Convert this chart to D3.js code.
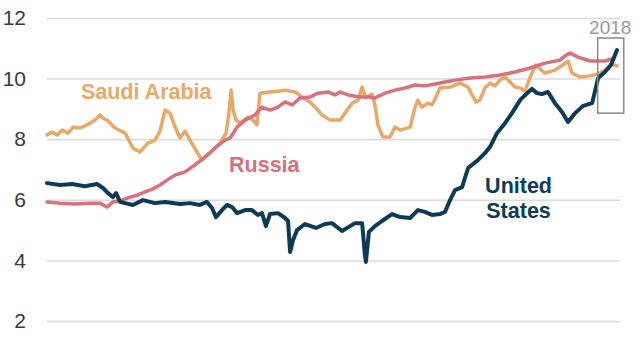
<!DOCTYPE html>
<html>
<head>
<meta charset="utf-8">
<script src="https://cdn.jsdelivr.net/npm/d3@7"></script>
<style>
  html, body { margin: 0; padding: 0; background: #fff; }
  svg { display: block; }
</style>
</head>
<body>
<svg id="chart" width="640" height="360"></svg>
<script>
// Crude oil production, million barrels per day (decimal year, value)
const usData = [
  [1996.00,6.55],[1996.52,6.49],[1997.00,6.52],[1997.51,6.45],[1997.99,6.52],[1998.23,6.39],
  [1998.43,6.22],[1998.63,6.09],[1998.75,6.22],[1998.91,5.93],[1999.11,5.89],[1999.42,5.83],
  [1999.82,5.99],[2000.30,5.89],[2000.70,5.93],[2001.30,5.86],[2001.69,5.89],[2002.09,5.83],
  [2002.37,5.93],[2002.57,5.73],[2002.73,5.43],[2002.97,5.66],[2003.17,5.83],[2003.37,5.76],
  [2003.57,5.56],[2003.89,5.66],[2004.16,5.66],[2004.40,5.50],[2004.56,5.56],[2004.72,5.13],
  [2004.88,5.53],[2005.20,5.56],[2005.48,5.40],[2005.60,5.30],[2005.68,4.28],[2005.80,4.67],
  [2005.96,5.00],[2006.27,5.20],[2006.71,5.07],[2007.07,5.20],[2007.35,5.23],[2007.75,4.97],
  [2008.07,5.13],[2008.27,5.23],[2008.55,5.23],[2008.66,4.18],[2008.70,3.95],[2008.82,4.94],
  [2009.06,5.13],[2009.34,5.30],[2009.74,5.53],[2010.06,5.43],[2010.46,5.40],[2010.77,5.66],
  [2011.05,5.60],[2011.33,5.50],[2011.65,5.53],[2011.85,5.60],[2012.05,5.99],[2012.25,6.32],
  [2012.53,6.42],[2012.77,7.05],[2013.16,7.31],[2013.44,7.54],[2013.64,7.74],[2013.92,8.20],
  [2014.24,8.53],[2014.52,8.86],[2014.84,9.29],[2015.12,9.52],[2015.31,9.66],[2015.51,9.52],
  [2015.71,9.49],[2015.95,9.56],[2016.23,9.19],[2016.51,8.90],[2016.75,8.57],[2017.03,8.86],
  [2017.35,9.10],[2017.71,9.19],[2017.95,10.02],[2018.22,10.22],[2018.46,10.45],[2018.70,10.94]
];
const russiaData = [
  [1996.00,5.93],[1996.52,5.89],[1997.12,5.86],[1997.71,5.89],[1998.11,5.89],[1998.39,5.76],
  [1998.63,5.93],[1998.99,5.99],[1999.31,6.09],[1999.62,6.16],[1999.90,6.26],[2000.22,6.36],
  [2000.50,6.49],[2000.78,6.65],[2001.10,6.82],[2001.50,6.92],[2001.89,7.15],[2002.29,7.41],
  [2002.69,7.71],[2003.09,7.97],[2003.29,8.04],[2003.57,8.40],[2003.89,8.63],[2004.28,8.80],
  [2004.56,9.06],[2004.88,8.96],[2005.20,9.06],[2005.48,9.23],[2005.76,9.13],[2006.08,9.36],
  [2006.47,9.39],[2006.79,9.52],[2007.19,9.56],[2007.47,9.46],[2007.67,9.56],[2007.99,9.46],
  [2008.47,9.39],[2008.86,9.39],[2009.06,9.36],[2009.46,9.52],[2009.86,9.62],[2010.26,9.69],
  [2010.66,9.79],[2011.05,9.76],[2011.45,9.82],[2011.85,9.89],[2012.25,9.95],[2012.85,10.02],
  [2013.44,10.05],[2014.04,10.12],[2014.64,10.22],[2015.24,10.35],[2015.83,10.51],[2016.43,10.61],
  [2016.63,10.75],[2016.83,10.84],[2017.15,10.71],[2017.63,10.58],[2018.22,10.58],[2018.50,10.65]
];
const saudiData = [
  [1996.00,8.14],[1996.20,8.24],[1996.40,8.14],[1996.60,8.30],[1996.84,8.20],[1997.04,8.40],
  [1997.31,8.37],[1997.59,8.47],[1997.91,8.63],[1998.11,8.80],[1998.23,8.70],[1998.39,8.63],
  [1998.71,8.37],[1999.11,8.20],[1999.42,7.71],[1999.70,7.58],[2000.02,7.87],[2000.30,7.97],
  [2000.50,8.27],[2000.70,8.96],[2000.90,8.86],[2001.10,8.40],[2001.30,8.04],[2001.50,8.27],
  [2001.69,7.97],[2001.97,7.58],[2002.17,7.31],[2002.49,7.54],[2002.89,7.87],[2003.13,8.20],
  [2003.25,8.90],[2003.33,9.62],[2003.41,8.96],[2003.53,8.63],[2003.69,8.53],[2004.00,8.73],
  [2004.20,8.63],[2004.36,8.47],[2004.48,9.52],[2004.88,9.56],[2005.28,9.59],[2005.48,9.62],
  [2005.88,9.56],[2006.16,9.39],[2006.47,9.23],[2006.71,9.03],[2006.95,8.80],[2007.27,8.63],
  [2007.67,8.63],[2007.87,8.86],[2008.15,9.19],[2008.39,9.29],[2008.55,9.72],[2008.70,9.36],
  [2008.94,9.49],[2009.06,9.13],[2009.18,8.47],[2009.38,8.07],[2009.66,8.07],[2009.86,8.40],
  [2010.06,8.30],[2010.46,8.40],[2010.66,9.06],[2010.77,9.29],[2010.93,9.06],[2011.17,9.19],
  [2011.33,9.13],[2011.49,9.39],[2011.65,9.69],[2012.05,9.72],[2012.45,9.85],[2012.77,9.72],
  [2012.93,9.46],[2013.08,9.23],[2013.24,9.29],[2013.44,9.69],[2013.64,9.85],[2013.84,9.76],
  [2014.04,9.95],[2014.24,10.05],[2014.44,9.89],[2014.64,9.72],[2014.84,9.69],[2015.04,9.59],
  [2015.24,10.05],[2015.47,10.45],[2015.83,10.18],[2016.23,10.28],[2016.55,10.45],[2016.75,10.58],
  [2016.91,10.18],[2017.23,10.05],[2017.63,10.09],[2017.95,10.15],[2018.22,10.28],[2018.50,10.48],
  [2018.70,10.42]
];
const yTicks = [2, 4, 6, 8, 10, 12];
const seriesNames = ["Saudi Arabia", "Russia", "United States"];
const highlightLabel = "2018";
const highlightYears = [2017.93, 2018.97];
const highlightValues = [8.86, 11.34];

const svg = d3.select("#chart");
const font = "'Liberation Sans', Arial, sans-serif";

const x = d3.scaleLinear().domain([1996, 2018.7]).range([47, 617]);
const y = d3.scaleLinear().domain([2, 12]).range([321, 18]);

// grid + y axis
const yAxis = d3.axisLeft(y).tickValues(yTicks).tickSize(-(620 - 47)).tickPadding(21);
const gAxis = svg.append("g").attr("transform", "translate(47,0)").call(yAxis);
gAxis.select(".domain").remove();
gAxis.selectAll(".tick line").attr("stroke", "#dcdcdc").attr("stroke-width", 1.5);
gAxis.selectAll(".tick text")
  .attr("fill", "#3a3a3a").style("font-family", font).style("font-size", "21px");

const line = d3.line().x(d => x(d[0])).y(d => y(d[1])).curve(d3.curveLinear);

const series = [
  { name: seriesNames[0], data: saudiData, color: "#e8a968", width: 3.5 },
  { name: seriesNames[1], data: russiaData, color: "#d9707e", width: 3.5 },
  { name: seriesNames[2], data: usData, color: "#0d3b55", width: 4 }
];
svg.append("g").selectAll("path").data(series).join("path")
  .attr("d", d => line(d.data))
  .attr("fill", "none")
  .attr("stroke", d => d.color)
  .attr("stroke-width", d => d.width)
  .attr("stroke-linejoin", "round")
  .attr("stroke-linecap", "round");

// 2018 highlight box
svg.append("rect")
  .attr("x", x(highlightYears[0]))
  .attr("y", y(highlightValues[1]))
  .attr("width", x(highlightYears[1]) - x(highlightYears[0]))
  .attr("height", y(highlightValues[0]) - y(highlightValues[1]))
  .attr("fill", "none").attr("stroke", "#8a8a8a").attr("stroke-width", 1.5);
svg.append("text")
  .attr("x", (x(highlightYears[0]) + x(highlightYears[1])) / 2 - 0.5)
  .attr("y", 34)
  .attr("text-anchor", "middle")
  .attr("fill", "#9a9a9a")
  .style("font-family", font).style("font-size", "19px")
  .text(highlightLabel);

// series labels
const lab = (txt, xv, yv, color, anchor) => svg.append("text")
  .attr("x", x(xv)).attr("y", y(yv))
  .attr("text-anchor", anchor || "start")
  .attr("fill", color)
  .style("font-family", font).style("font-size", "21.5px").style("font-weight", "bold")
  .text(txt);
lab("Saudi Arabia", 1997.35, 9.33, "#e8a968");
lab("Russia", 2003.25, 6.92, "#d9707e");
lab("United", 2014.78, 6.22, "#0d3b55", "middle");
lab("States", 2014.78, 5.40, "#0d3b55", "middle");
</script>
</body>
</html>
